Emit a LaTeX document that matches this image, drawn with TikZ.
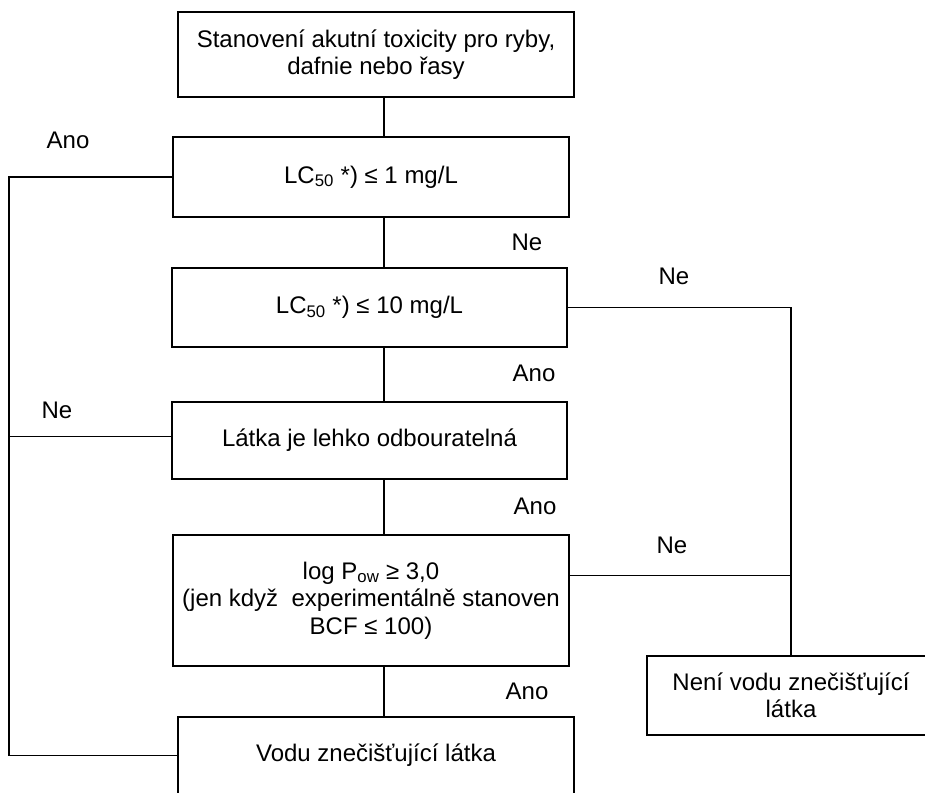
\documentclass[tikz,border=0pt]{standalone}
\usepackage{fontspec}
\setmainfont{Liberation Sans}
\usepackage{tikz}

\begin{document}
\begin{tikzpicture}[x=1pt,y=-1pt,
  box/.style={draw, line width=1.5pt, inner sep=0pt, align=center,
    font=\fontsize{24}{27.5}\selectfont},
  answer/.style={inner sep=0pt, font=\fontsize{24}{27.5}\selectfont}]
\useasboundingbox (0,0) rectangle (925,792);
\clip (0,0) rectangle (925,792);
\node[box, minimum width=396, minimum height=85] (b1) at (376,54.5) {Stanovení akutní toxicity pro ryby,\\dafnie nebo řasy};
\node[box, minimum width=396, minimum height=80] (b2) at (371,177) {LC\textsubscript{50} *) ≤ 1 mg/L};
\node[box, minimum width=395, minimum height=79] (b3) at (369.5,307.5) {LC\textsubscript{50} *) ≤ 10 mg/L};
\node[box, minimum width=395, minimum height=77] (b4) at (369.5,440.5) {Látka je lehko odbouratelná};
\node[box, minimum width=396, minimum height=131] (b5) at (371,600.5) {log P\textsubscript{ow} ≥ 3,0\\(jen když~ experimentálně stanoven\\BCF ≤ 100)};
\node[box, minimum width=396, minimum height=77] (b6) at (376,755.5) {Vodu znečišťující látka};
\node[box, minimum width=288, minimum height=79] (b7) at (791,695.5) {Není vodu znečišťující\\látka};
\coordinate (mid) at (384,0);
\coordinate (lft) at (9,0);
% main column
\foreach \a/\b in {b1/b2,b2/b3,b3/b4,b4/b5,b5/b6}
  \draw[line width=1.5pt] (\a.south -| mid) -- (\b.north -| mid);
% left branch
\draw[line width=1.5pt] (b2.west) -- (b2.west -| lft) -- (b6.west -| lft) -- (b6.west);
\draw[line width=1.5pt] ([yshift=4pt]b4.west) -- ([yshift=4pt]b4.west -| lft);
% right branch
\draw[line width=1.5pt] (b3.east) -| (b7.north);
\draw[line width=1.5pt] ([yshift=25pt]b5.east) -- ([yshift=25pt]b5.east -| b7.north);
\node[answer] (a1) at (68,140) {Ano};
\node[answer] (n1) at (527,242) {Ne};
\node[answer] (n2) at (674,276) {Ne};
\node[answer] (a2) at (534,373) {Ano};
\node[answer] (n3) at (57,410) {Ne};
\node[answer] (a3) at (535,506) {Ano};
\node[answer] (n4) at (672,545) {Ne};
\node[answer] (a4) at (527,691) {Ano};
\end{tikzpicture}
\end{document}
